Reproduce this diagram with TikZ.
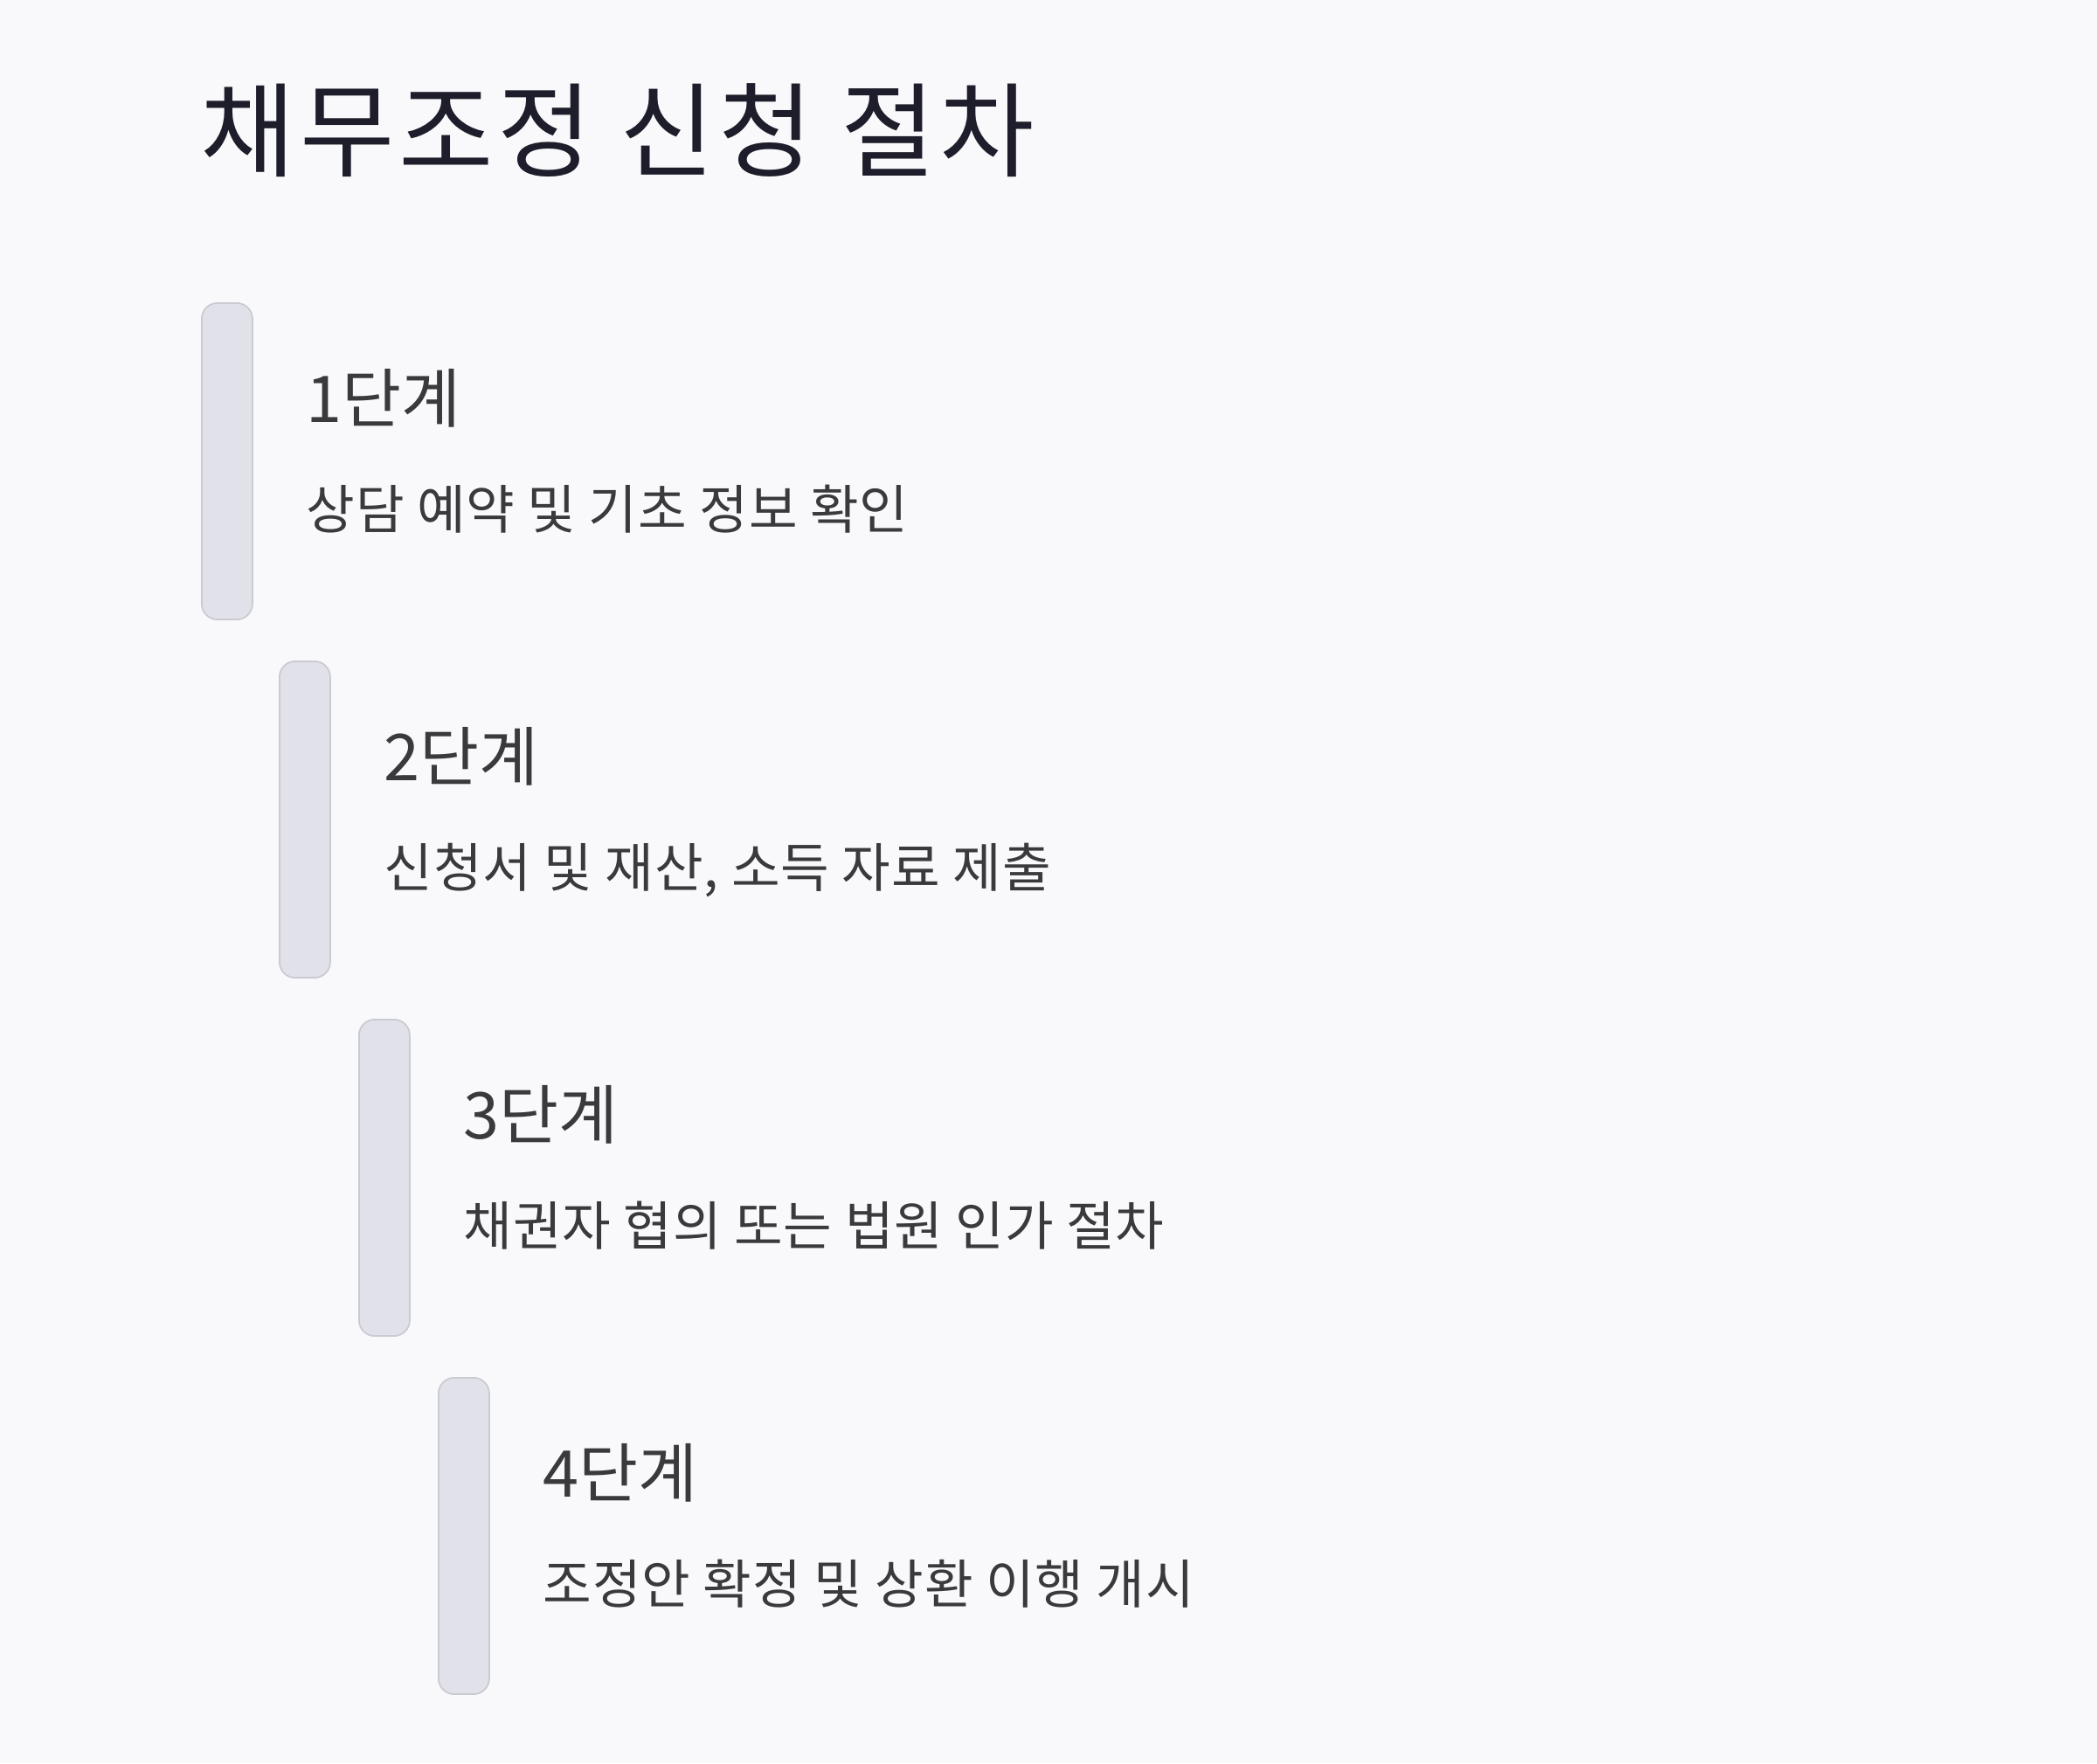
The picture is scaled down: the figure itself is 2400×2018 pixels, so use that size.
\documentclass[tikz,border=0pt]{standalone}
\usepackage{fontspec}
\setmainfont{Noto Sans CJK KR}
\usetikzlibrary{positioning}

\definecolor{pagebg}{HTML}{F9F9FB}
\definecolor{barfill}{HTML}{E1E1EA}
\definecolor{barline}{HTML}{CACAD3}
\definecolor{titleink}{HTML}{1D1D2B}
\definecolor{stepink}{HTML}{3A3A3C}

\tikzset{
  stepbar/.style={draw=barline, fill=barfill, line width=0.5pt, rounded corners=0.18cm,
    minimum width=0.58cm, minimum height=3.62cm, inner sep=0pt, anchor=north west},
  steplabel/.style={text=stepink, font=\fontsize{21}{25}\selectfont, inner sep=0pt, anchor=base west},
  stepdesc/.style={text=stepink, font=\fontsize{17.2}{21}\selectfont\addfontfeatures{LetterSpace=1.5}, inner sep=0pt, anchor=base west},
  headline/.style={text=titleink, font=\fontsize{33.5}{40}\selectfont\addfontfeatures{LetterSpace=4.2}, inner sep=0pt, anchor=base west}
}

\begin{document}
\begin{tikzpicture}[x=0.01cm, y=-0.01cm]
	\fill[pagebg] (0,0) rectangle (2400,2018);
	\useasboundingbox (0,0) rectangle (2400,2018);

	\node[headline] (title) at (229,193) {채무조정 신청 절차};

	\node[stepbar] (bar1) at (230,346)  {};
	\node[stepbar] (bar2) at (319,756)  {};
	\node[stepbar] (bar3) at (410,1166) {};
	\node[stepbar] (bar4) at (501,1576) {};

	\node[steplabel] (lab1)  at ([shift={(60,137)}]bar1.north east) {1단계};
	\node[stepdesc]  (desc1) at ([shift={(60,259)}]bar1.north east) {상담 예약 및 기초 정보 확인};

	\node[steplabel] (lab2)  at ([shift={(60,137)}]bar2.north east) {2단계};
	\node[stepdesc]  (desc2) at ([shift={(60,259)}]bar2.north east) {신청서 및 재산, 소득 자료 제출};

	\node[steplabel] (lab3)  at ([shift={(60,137)}]bar3.north east) {3단계};
	\node[stepdesc]  (desc3) at ([shift={(60,259)}]bar3.north east) {채권자 협의 또는 법원 인가 절차};

	\node[steplabel] (lab4)  at ([shift={(60,137)}]bar4.north east) {4단계};
	\node[stepdesc]  (desc4) at ([shift={(60,259)}]bar4.north east) {조정안 확정 및 상환 이행 개시};
\end{tikzpicture}
\end{document}
